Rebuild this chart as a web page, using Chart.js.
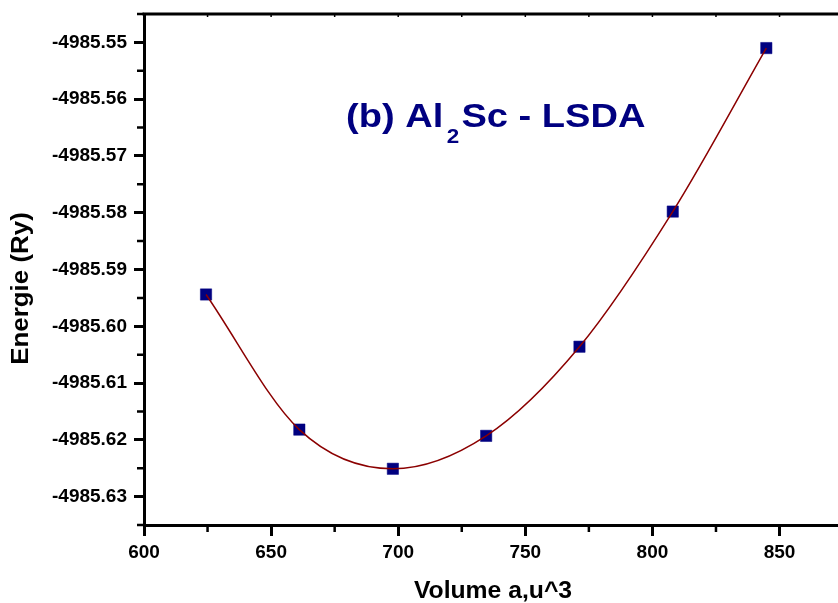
<!DOCTYPE html>
<html><head><meta charset="utf-8">
<script src="https://cdn.jsdelivr.net/npm/chart.js@4"></script>
<style>html,body{margin:0;padding:0;background:#fff;overflow:hidden}</style>
</head><body>
<canvas id="c" width="838" height="603" style="width:838px;height:603px"></canvas>
<script>
const volumes  = [624.4, 661.1, 697.9, 734.6, 771.3, 808.0, 844.8];
const energies = [-4985.5944, -4985.6182, -4985.6251, -4985.6193, -4985.6036, -4985.5798, -4985.5510];
const xTicks = [600, 650, 700, 750, 800, 850];
const xMinorTicks = [625, 675, 725, 775, 825];
const yTicks = [-4985.63, -4985.62, -4985.61, -4985.60, -4985.59, -4985.58, -4985.57, -4985.56, -4985.55];
const yMinorTicks = [-4985.635, -4985.625, -4985.615, -4985.605, -4985.595, -4985.585, -4985.575, -4985.565, -4985.555, -4985.545];
const titleParts = ["(b) Al", "2", "Sc - LSDA"];
const xTitle = "Volume a,u^3";
const yTitle = "Energie (Ry)";
const xRange = [600, 873];
const yRange = [-4985.635, -4985.545];

const FONT = "'Liberation Sans', Arial, Helvetica, sans-serif";
const pts = volumes.map((v, i) => ({x: v, y: energies[i]}));

const decor = {
  id: 'decor',
  afterDraw(chart) {
    const {ctx, chartArea: a, scales: {x, y}} = chart;
    ctx.save();
    ctx.strokeStyle = '#000';
    // top axis line
    ctx.lineWidth = 3;
    ctx.beginPath();
    ctx.moveTo(a.left - 1.5, a.top); ctx.lineTo(chart.width, a.top);
    ctx.stroke();
    // minor ticks
    ctx.lineWidth = 2.5;
    ctx.beginPath();
    yMinorTicks.forEach(v => { const p = y.getPixelForValue(v); ctx.moveTo(a.left, p); ctx.lineTo(a.left - 7, p); });
    xMinorTicks.forEach(v => { const p = x.getPixelForValue(v); ctx.moveTo(p, a.bottom); ctx.lineTo(p, a.bottom + 7); });
    ctx.stroke();
    // tiny top ticks
    ctx.lineWidth = 1.5;
    ctx.beginPath();
    xTicks.concat(xMinorTicks).forEach(v => { const p = x.getPixelForValue(v); ctx.moveTo(p, a.top); ctx.lineTo(p, a.top + 3); });
    ctx.stroke();

    // main title
    ctx.fillStyle = '#000080';
    ctx.textBaseline = 'alphabetic';
    ctx.textAlign = 'left';
    const tx = x.getPixelForValue(679.5), ty = y.getPixelForValue(-4985.5649);
    ctx.save();
    ctx.translate(tx, ty);
    ctx.scale(1.12, 1);
    ctx.font = "bold 34px " + FONT;
    let cx = 0;
    ctx.fillText(titleParts[0], cx, 0);
    cx += ctx.measureText(titleParts[0]).width + 3;
    ctx.font = "bold 20px " + FONT;
    ctx.fillText(titleParts[1], cx, 16);
    cx += ctx.measureText(titleParts[1]).width + 2;
    ctx.font = "bold 34px " + FONT;
    ctx.fillText(titleParts[2], cx, 0);
    ctx.restore();

    // axis titles
    ctx.fillStyle = '#000';
    ctx.font = "bold 24px " + FONT;
    ctx.textAlign = 'center';
    ctx.textBaseline = 'alphabetic';
    ctx.save();
    ctx.translate(493, 597.5);
    ctx.scale(1.03, 1);
    ctx.fillText(xTitle, 0, 0);
    ctx.restore();
    ctx.save();
    ctx.translate(27.5, 288.5);
    ctx.rotate(-Math.PI / 2);
    ctx.scale(1.08, 1);
    ctx.fillText(yTitle, 0, 0);
    ctx.restore();
    ctx.restore();
  }
};

new Chart(document.getElementById('c'), {
  type: 'scatter',
  data: {
    datasets: [
      {
        data: pts, showLine: true, cubicInterpolationMode: 'monotone', borderColor: '#8B0000', borderWidth: 1.5,
        pointRadius: 0, pointHoverRadius: 0, order: 0
      },
      {
        data: pts, showLine: false, pointStyle: 'rect', pointRadius: 8,
        backgroundColor: '#000080', borderColor: '#000080', borderWidth: 0.5, order: 1
      }
    ]
  },
  options: {
    responsive: false, animation: false, devicePixelRatio: 1,
    layout: {autoPadding: false, padding: {top: 14, left: 0, right: 0, bottom: 0}},
    plugins: {legend: {display: false}, tooltip: {enabled: false}, title: {display: false}},
    scales: {
      x: {
        type: 'linear', min: xRange[0], max: xRange[1],
        afterBuildTicks: s => { s.ticks = xTicks.map(v => ({value: v})); },
        afterFit: s => { s.height = 78; s.paddingLeft = 0; s.paddingRight = 0; },
        ticks: {color: '#000', font: {family: FONT, size: 19, weight: 'bold'}, padding: 5,
                autoSkip: false, maxRotation: 0, callback: v => String(v)},
        grid: {display: true, drawOnChartArea: false, drawTicks: true, tickLength: 11, tickWidth: 3, tickColor: '#000'},
        border: {display: true, width: 3, color: '#000'}
      },
      y: {
        type: 'linear', min: yRange[0], max: yRange[1],
        afterBuildTicks: s => { s.ticks = yTicks.map(v => ({value: v})); },
        afterFit: s => { s.width = 144; s.paddingTop = 0; s.paddingBottom = 0; },
        ticks: {color: '#000', font: {family: FONT, size: 19, weight: 'bold'}, padding: 7,
                autoSkip: false, callback: v => v.toFixed(2)},
        grid: {display: true, drawOnChartArea: false, drawTicks: true, tickLength: 10, tickWidth: 3, tickColor: '#000'},
        border: {display: true, width: 3, color: '#000'}
      }
    }
  },
  plugins: [decor]
});
</script>
</body></html>
